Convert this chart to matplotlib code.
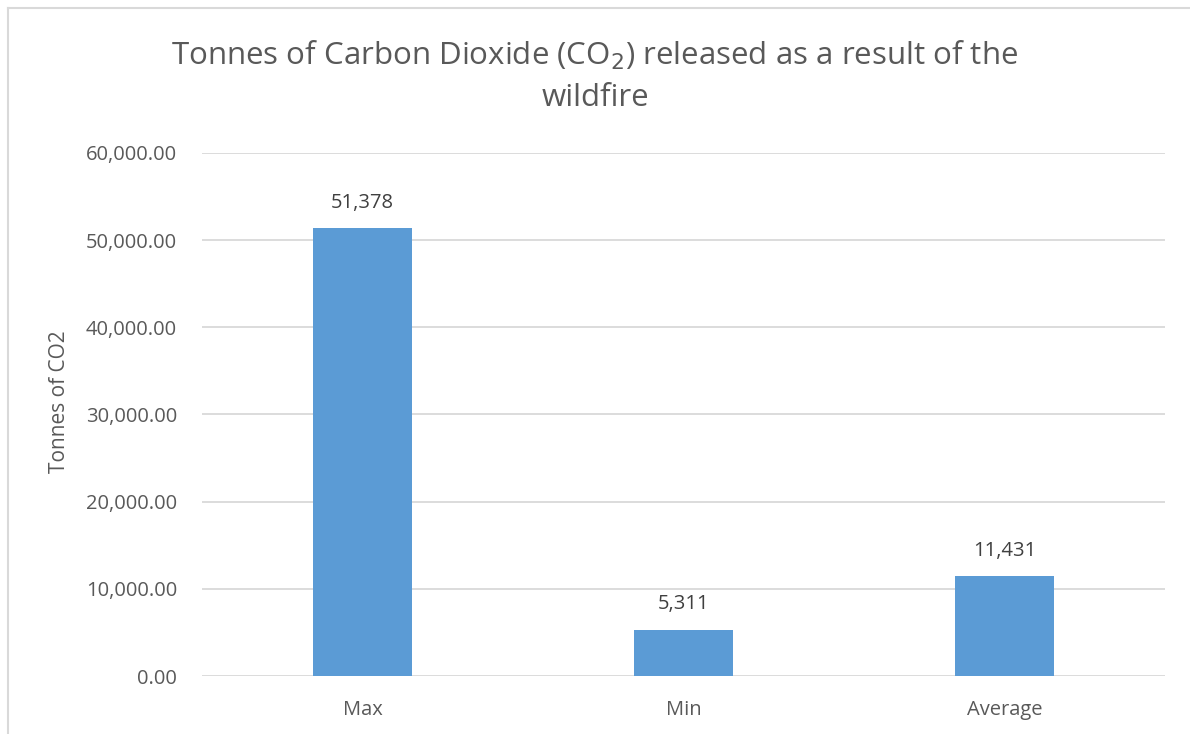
import matplotlib.pyplot as plt
from matplotlib.lines import Line2D
from matplotlib.ticker import FuncFormatter

plt.rcParams['font.family'] = ['Open Sans', 'DejaVu Sans']

# tonnes of CO2 per scenario
categories = ['Max', 'Min', 'Average']
co2_tonnes = [51378, 5311, 11431]
y_ticks = [0, 10000, 20000, 30000, 40000, 50000, 60000]

text_col = '#595959'
bar_col = '#5B9BD5'
grid_col = '#D9D9D9'

fig = plt.figure(figsize=(11.9, 7.34), dpi=100)
ax = fig.add_axes([202 / 1190, 1 - 676 / 734, (1165 - 202) / 1190, (676 - 153) / 734])

x = list(range(len(categories)))
ax.bar(x, co2_tonnes, width=0.311, color=bar_col, zorder=3)

for xi, v in zip(x, co2_tonnes):
    ax.annotate(f'{v:,}', (xi, v), xytext=(0, 11), textcoords='offset points',
                ha='center', va='bottom', fontsize=14.5, color='#404040')

ax.set_xlim(-0.5, len(categories) - 0.5)
ax.set_ylim(0, 60000)
ax.set_yticks(y_ticks)
ax.yaxis.set_major_formatter(FuncFormatter(lambda v, p: f'{v:,.2f}'))
ax.set_xticks(x)
ax.set_xticklabels(categories)
ax.tick_params(axis='both', length=0, labelsize=14.5, colors=text_col)
ax.tick_params(axis='y', pad=18)
ax.tick_params(axis='x', pad=17)
ax.grid(axis='y', color=grid_col, linewidth=1.3, zorder=0)
for s in ax.spines.values():
    s.set_visible(False)

ax.set_ylabel('Tonnes of CO2', fontsize=15, color=text_col)
ax.yaxis.set_label_coords(-0.137, 0.524)

fig.text(0.5, 1 - 55 / 734, 'Tonnes of Carbon Dioxide (CO$_2$) released as a result of the',
         ha='center', va='center', fontsize=22.5, color=text_col)
fig.text(0.5, 1 - 98 / 734, 'wildfire', ha='center', va='center', fontsize=22.5, color=text_col)

# chart frame (left and top edges)
fig.add_artist(Line2D([8 / 1190, 8 / 1190], [0, 1 - 8 / 734], transform=fig.transFigure,
                      color='#D9D9D9', linewidth=1.5))
fig.add_artist(Line2D([8 / 1190, 1], [1 - 8 / 734, 1 - 8 / 734], transform=fig.transFigure,
                      color='#D9D9D9', linewidth=1.5))

fig.savefig('out.png', dpi=100)
